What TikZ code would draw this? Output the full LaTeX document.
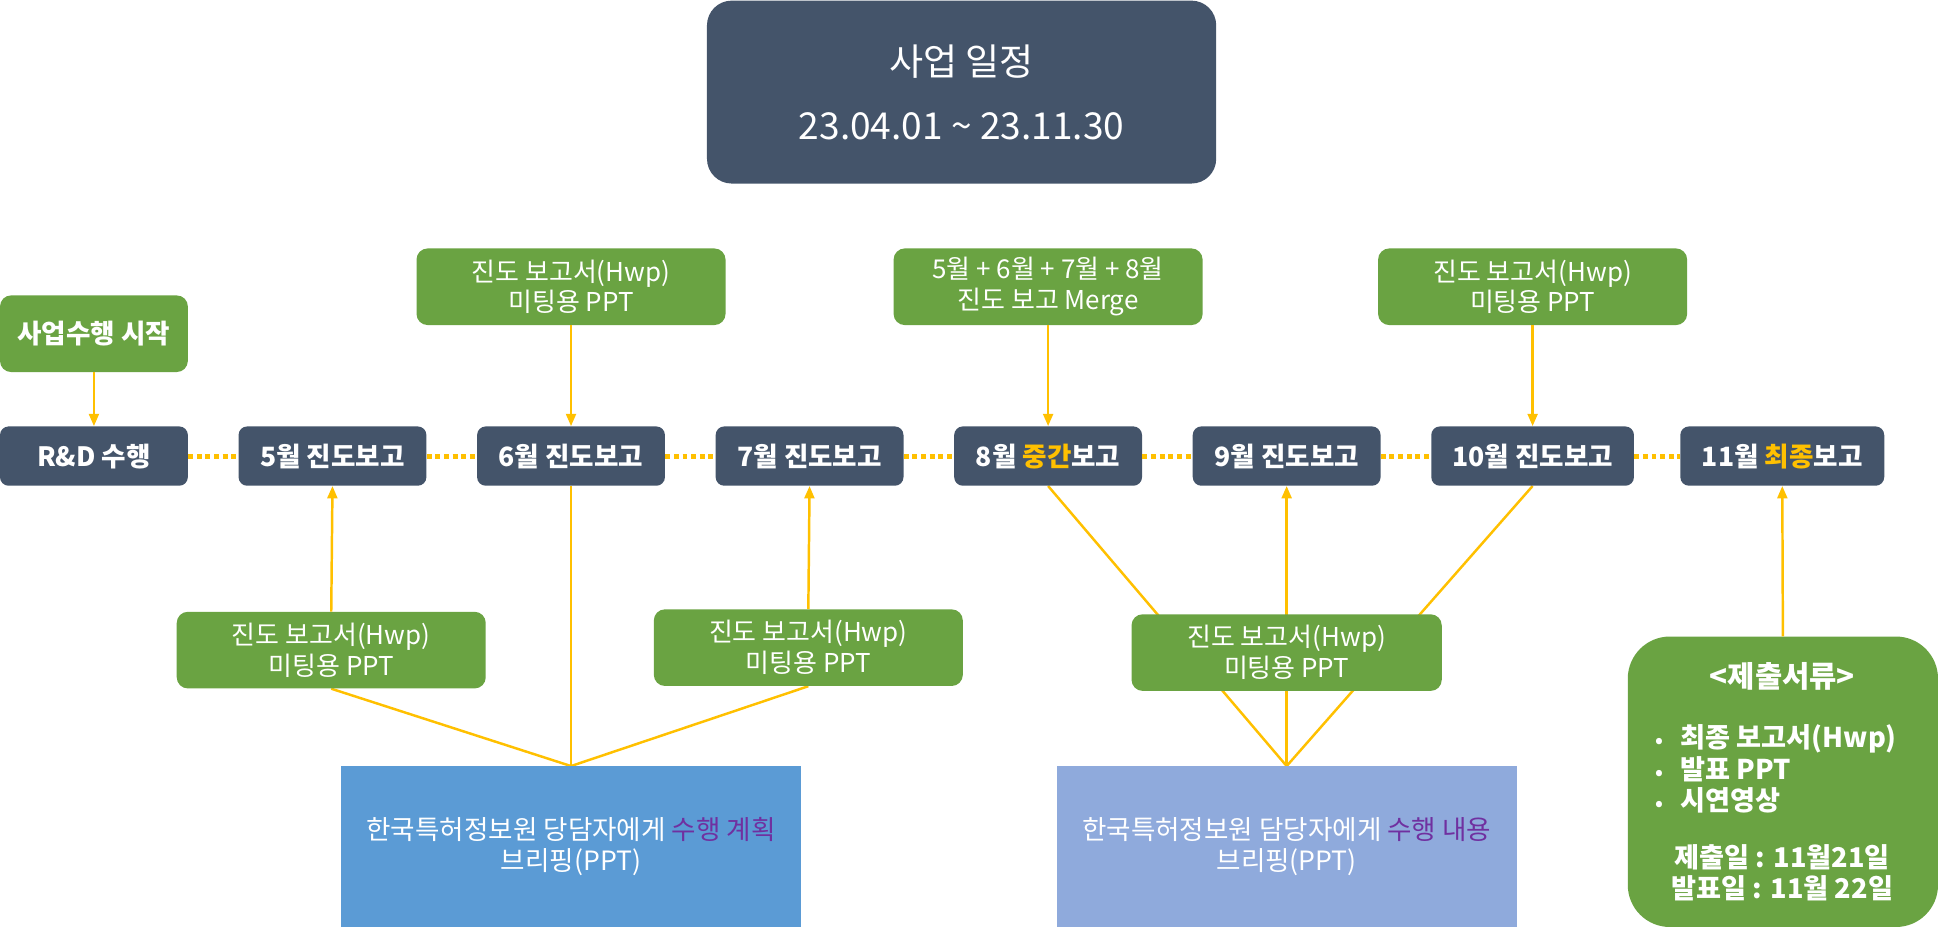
\documentclass[tikz,border=0pt]{standalone}
\usepackage{fontspec}
\newfontfamily\kr{Noto Sans CJK KR}
\usetikzlibrary{arrows.meta}
\definecolor{dk}{HTML}{44546A}
\definecolor{gr}{HTML}{6AA342}
\definecolor{yel}{HTML}{FFC000}
\definecolor{bl1}{HTML}{5B9BD5}
\definecolor{bl2}{HTML}{8FAADC}
\definecolor{pur}{HTML}{7030A0}
\pgfdeclarelayer{background}
\pgfsetlayers{background,main}
\tikzset{
  darkbox/.style={fill=dk, text=white, rounded corners=7pt, minimum width=152pt, minimum height=48pt, inner sep=0pt,
    font=\kr\bfseries\fontsize{21.5}{24}\selectfont},
  greenbox/.style={fill=gr, text=white, rounded corners=9pt, minimum width=250pt, minimum height=62pt, inner sep=0pt, align=center,
    font=\kr\fontsize{21}{25}\selectfont},
  bluebox/.style={text=white, minimum width=372pt, minimum height=130pt, inner sep=0pt, align=center,
    font=\kr\fontsize{21.5}{25}\selectfont},
  conn/.style={draw=yel, line width=2pt},
  arr/.style={draw=yel, line width=2pt, -{Triangle[length=10pt,width=8pt]}},
  dotl/.style={draw=yel, line width=4pt, dash pattern=on 4pt off 3pt},
  wtext/.style={text=white, inner sep=0pt}
}
\begin{document}
\begin{tikzpicture}[x=1pt,y=-1pt]
\useasboundingbox (0,0) rectangle (1568,750);
% title
\node[fill=dk, text=white, rounded corners=20pt, minimum width=412pt, minimum height=148pt, inner sep=0pt, align=center,
  font=\kr\fontsize{30}{52}\selectfont] (title) at (778,74.5) {사업 일정\\23.04.01 \char"7E\ 23.11.30};
% start
\node[greenbox, minimum width=152pt, font=\kr\bfseries\fontsize{21.5}{25}\selectfont] (start) at (76,270) {사업수행 시작};
% timeline
\node[darkbox] (rd) at (76,369) {R\&D 수행};
\node[darkbox] (m5) at (269,369) {5월 진도보고};
\node[darkbox] (m6) at (462,369) {6월 진도보고};
\node[darkbox] (m7) at (655,369) {7월 진도보고};
\node[darkbox] (m8) at (848,369) {8월 {\color{yel}중간}보고};
\node[darkbox] (m9) at (1041,369) {9월 진도보고};
\node[darkbox, minimum width=164pt] (m10) at (1240,369) {10월 진도보고};
\node[darkbox, minimum width=165pt] (m11) at (1442,369) {11월 {\color{yel}최종}보고};
% green top
\node[greenbox] (ga) at (462,232) {진도 보고서(Hwp)\\미팅용 PPT};
\node[greenbox] (gb) at (848,232) {5월 + 6월 + 7월 + 8월\\진도 보고 Merge};
\node[greenbox] (gc) at (1240,232) {진도 보고서(Hwp)\\미팅용 PPT};
% green bottom
\node[greenbox] (gd) at (268,526) {진도 보고서(Hwp)\\미팅용 PPT};
\node[greenbox] (ge) at (654,524) {진도 보고서(Hwp)\\미팅용 PPT};
\node[greenbox, minimum width=251pt] (gf) at (1041,528) {진도 보고서(Hwp)\\미팅용 PPT};
% blue
\node[bluebox, fill=bl1] (b1) at (462,685) {한국특허정보원 당담자에게 {\color{pur}수행 계획}\\브리핑(PPT)};
\node[bluebox, fill=bl2] (b2) at (1041,685) {한국특허정보원 담당자에게 {\color{pur}수행 내용}\\브리핑(PPT)};
% submit
\node[fill=gr, rounded corners=34pt, minimum width=251pt, minimum height=235pt, inner sep=0pt] (sub) at (1442.5,632.5) {};
\node[wtext, font=\kr\bfseries\fontsize{24}{24}\selectfont] (subt) at (1442,547) {<제출서류>};
\node[wtext, anchor=north west, font=\kr\bfseries\fontsize{22}{23.5}\selectfont, align=left] (subl) at (1339,586)
  {\begin{tabular}{@{}l@{\hspace{14pt}}l@{}}{\fontsize{16}{23.5}\selectfont •}&최종 보고서(Hwp)\\{\fontsize{16}{23.5}\selectfont •}&발표 PPT\\{\fontsize{16}{23.5}\selectfont •}&시연영상\end{tabular}};
\node[wtext, font=\kr\bfseries\fontsize{22}{25}\selectfont, align=center] (subd) at (1442,706) {제출일 : 11월21일\\발표일 : 11월 22일};
% connectors
\begin{pgfonlayer}{background}
\draw[conn] (gd.south) -- (b1.north);
\draw[conn] (ge.south) -- (b1.north);
\draw[conn] (m6.south) -- (b1.north);
\draw[conn] (m8.south) -- (b2.north);
\draw[conn] (m10.south) -- (b2.north);
\draw[arr] (b2.north) -- (m9.south);
\end{pgfonlayer}
\draw[arr] (start.south) -- (rd.north);
\draw[arr] (ga.south) -- (m6.north);
\draw[arr] (gb.south) -- (m8.north);
\draw[arr] (gc.south) -- (m10.north);
\draw[arr] (gd.north) -- (m5.south);
\draw[arr] (ge.north) -- (m7.south);
\draw[arr] (sub.north) -- (m11.south);
\draw[dotl] (rd.east) -- (m5.west);
\draw[dotl] (m5.east) -- (m6.west);
\draw[dotl] (m6.east) -- (m7.west);
\draw[dotl] (m7.east) -- (m8.west);
\draw[dotl] (m8.east) -- (m9.west);
\draw[dotl] (m9.east) -- (m10.west);
\draw[dotl] (m10.east) -- (m11.west);
\end{tikzpicture}
\end{document}
